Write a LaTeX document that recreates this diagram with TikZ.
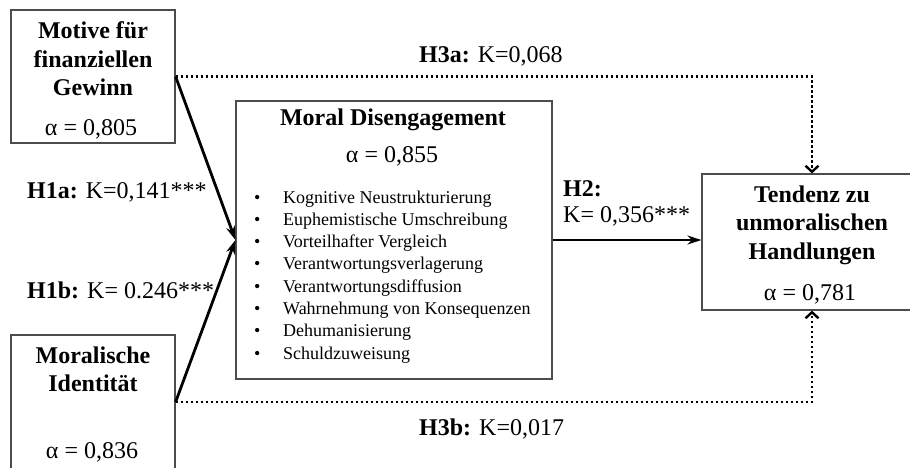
\documentclass[tikz,border=0pt]{standalone}
\usepackage{fontspec}
\setmainfont{Liberation Serif}
\usetikzlibrary{positioning,arrows.meta}

\tikzset{
  box/.style={draw=black!70, line width=1.2pt, inner sep=0pt},
  title/.style={font=\fontsize{24}{28.5}\selectfont\bfseries, align=center, anchor=north, inner sep=0pt},
  alpha/.style={font=\fontsize{24}{28}\selectfont, anchor=base, inner sep=0pt},
  hlabel/.style={font=\fontsize{24}{28}\selectfont, anchor=base west, inner sep=0pt},
  item/.style={font=\fontsize{18}{22}\selectfont, anchor=base west, inner sep=0pt},
  effect/.style={line width=2.8pt, -{Stealth[length=14pt,width=9pt]}},
  weak/.style={line width=2.8pt, dash pattern=on 2.6pt off 2.4pt, -{Straight Barb[length=6pt,width=13pt,line width=2.4pt]}},
}

\begin{document}
\begin{tikzpicture}[x=1pt,y=-1pt]
\useasboundingbox (0,0) rectangle (910,467);
% boxes
\node[box, minimum width=164pt, minimum height=133pt] (mot) at (93,76.5) {};
\node[box, minimum width=164pt, minimum height=134pt] (mor) at (93,402) {};
\node[box, minimum width=316pt, minimum height=278pt] (md) at (394,240) {};
\node[box, minimum width=220pt, minimum height=136pt] (ten) at (812,242) {};
% box texts
\node[title] (motT) at (93,21.6) {Motive für\\finanziellen\\Gewinn};
\node[alpha] (motA) at (91,135) {α = 0,805};
\node[title] (morT) at (93,346.6) {Moralische\\Identität};
\node[alpha] (morA) at (92,458) {α = 0,836};
\node[title] (mdT) at (393,108.6) {Moral Disengagement};
\node[alpha] (mdA) at (392,162) {α = 0,855};
\node[title] (tenT) at (812,185.6) {Tendenz zu\\unmoralischen\\Handlungen};
\node[alpha] (tenA) at (810,300) {α = 0,781};
\foreach \txt [count=\i] in {Kognitive Neustrukturierung, Euphemistische Umschreibung,
    Vorteilhafter Vergleich, Verantwortungsverlagerung, Verantwortungsdiffusion,
    Wahrnehmung von Konsequenzen, Dehumanisierung, Schuldzuweisung}{
  \node[item] (dot\i) at (254,{203+22.3*(\i-1)}) {\textbullet};
  \node[item] (md\i) at (283,{203+22.3*(\i-1)}) {\txt};
}
% labels
\node[hlabel] (h1a) at (27,198) {\textbf{H1a:} K=0,141***};
\node[hlabel] (h1b) at (27,298) {\textbf{H1b:} K= 0.246***};
\node[hlabel] (h2) at (563,196) {\textbf{H2:}};
\node[hlabel] (h2k) at (563,222) {K= 0,356***};
\node[hlabel] (h3a) at (419,62) {\textbf{H3a:} K=0,068};
\node[hlabel] (h3b) at (419,435) {\textbf{H3b:} K=0,017};
% paths
\draw[effect] (mot.east) -- (md.west);
\draw[effect] (mor.east) -- (md.west);
\draw[effect] (md.east) -- (md.east -| ten.west);
\draw[weak] (mot.east) -| (ten.north);
\draw[weak] (mor.east) -| (ten.south);
\end{tikzpicture}
\end{document}
